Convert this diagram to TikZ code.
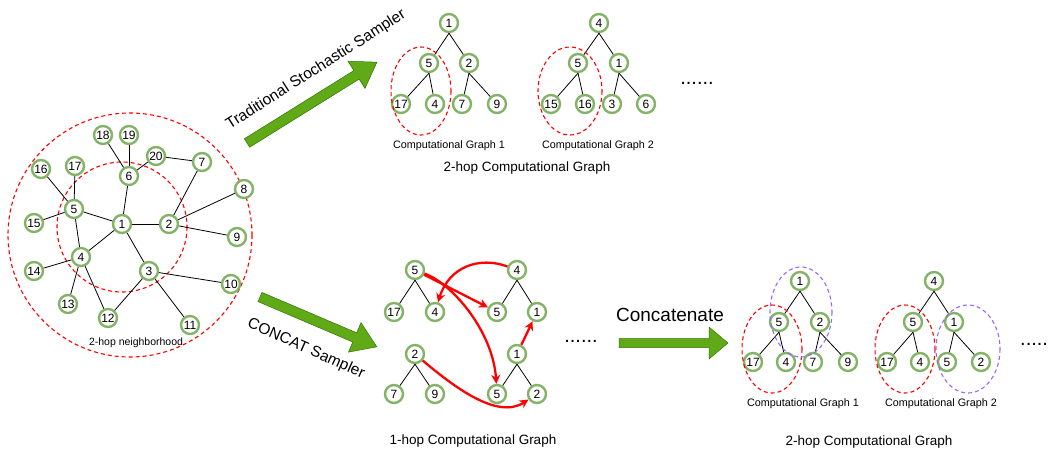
\documentclass[tikz,border=0pt]{standalone}
\usepackage{fontspec}
\setmainfont{Liberation Sans}
\usetikzlibrary{arrows.meta}
\definecolor{ngreen}{HTML}{82B366}
\definecolor{agreen}{HTML}{60A917}
\definecolor{agreenD}{HTML}{2D7600}
\definecolor{dred}{HTML}{FF0000}
\definecolor{dpurple}{HTML}{9966FF}
\tikzset{
  gn/.style={circle, draw=ngreen, line width=2.4pt, minimum size=18pt, inner sep=0pt, fill=white, font=\fontsize{12}{14}\selectfont},
  ed/.style={line width=0.8pt},
  rdash/.style={draw=dred, line width=1.1pt, dash pattern=on 4pt off 3pt},
  pdash/.style={draw=dpurple, line width=1.1pt, dash pattern=on 4pt off 3pt},
  rarr/.style={draw=dred, line width=2.3pt, -{Stealth[length=9pt,width=9pt]}},
  fat/.style={fill=agreen, draw=agreenD, line width=0.5pt},
  lbl/.style={font=\fontsize{10.8}{13}\selectfont, inner sep=0pt},
  title/.style={font=\fontsize{13.5}{16}\selectfont, inner sep=0pt},
  dots/.style={font=\fontsize{20}{22}\selectfont, inner sep=0pt, anchor=base},
}
\begin{document}
\begin{tikzpicture}[x=1pt, y=-1pt]
\useasboundingbox (0,0) rectangle (1050,456);

% ---------- left graph ----------
\draw[rdash] (130,235) circle (122);
\draw[rdash] (122,227) circle (65);

\node[gn] (n1) at (122,224) {1};
\node[gn] (n2) at (169,224) {2};
\node[gn] (n3) at (149,271) {3};
\node[gn] (n4) at (81,257) {4};
\node[gn] (n5) at (74,209) {5};
\node[gn] (n6) at (129,176) {6};
\node[gn] (n7) at (202,162) {7};
\node[gn] (n8) at (244,189) {8};
\node[gn] (n9) at (237,237) {9};
\node[gn] (n10) at (231,284) {10};
\node[gn] (n11) at (190,325) {11};
\node[gn] (n12) at (108,318) {12};
\node[gn] (n13) at (68,304) {13};
\node[gn] (n14) at (34,271) {14};
\node[gn] (n15) at (34,223) {15};
\node[gn] (n16) at (41,169) {16};
\node[gn] (n17) at (75,166) {17};
\node[gn] (n18) at (103,135) {18};
\node[gn] (n19) at (129,135) {19};
\node[gn] (n20) at (156,156) {20};

\foreach \a/\b in {n18/n6, n19/n6, n20/n6, n6/n1, n20/n7, n7/n2, n8/n2, n2/n9, n1/n2,
  n1/n5, n1/n4, n1/n3, n5/n16, n5/n17, n5/n15, n5/n4, n4/n14, n4/n13, n4/n12,
  n3/n12, n3/n10, n3/n11}
  \draw[ed] (\a) -- (\b);

\node[font=\fontsize{10.5}{12}\selectfont, inner sep=0pt] (lhood) at (136,343) {2-hop neighborhood};

% ---------- fat arrows ----------
\begin{scope}[shift={(247,143)}, rotate=31.9]
  \draw[fat] (0,5) -- (129,5) -- (129,16) -- (153,0) -- (129,-16) -- (129,-5) -- (0,-5) -- cycle;
\end{scope}
\node[font=\fontsize{15.5}{18}\selectfont, rotate=32.5, inner sep=0pt] (tss) at (316,70) {Traditional Stochastic Sampler};

\begin{scope}[shift={(260,297)}, rotate=-23.1]
  \draw[fat] (0,5) -- (103,5) -- (103,16) -- (127,0) -- (103,-16) -- (103,-5) -- (0,-5) -- cycle;
\end{scope}
\node[font=\fontsize{15.5}{18}\selectfont, rotate=-24, inner sep=0pt] (cs) at (306,349) {CONCAT Sampler};

\begin{scope}[shift={(619,343)}]
  \draw[fat] (0,4.5) -- (90,4.5) -- (90,16) -- (109,0) -- (90,-16) -- (90,-4.5) -- (0,-4.5) -- cycle;
\end{scope}
\node[font=\fontsize{19}{22}\selectfont, inner sep=0pt] (concat) at (670,315) {Concatenate};

% ---------- top: traditional computational graphs ----------
\node[gn] (ta1) at (449,23) {1};
\node[gn] (ta5) at (429,63) {5};
\node[gn] (ta2) at (469,63) {2};
\node[gn] (ta17) at (401,104) {17};
\node[gn] (ta4) at (435,104) {4};
\node[gn] (ta7) at (462,104) {7};
\node[gn] (ta9) at (497,104) {9};
\foreach \a/\b in {ta1/ta5, ta1/ta2, ta5/ta17, ta5/ta4, ta2/ta7, ta2/ta9}
  \draw[ed] (\a.south) -- (\b);
\draw[rdash] (421,91) ellipse [x radius=30, y radius=44];
\node[lbl] (tcg1) at (449,146) {Computational Graph 1};

\node[gn] (tb4) at (599,23) {4};
\node[gn] (tb5) at (578,63) {5};
\node[gn] (tb1) at (619,63) {1};
\node[gn] (tb15) at (551,104) {15};
\node[gn] (tb16) at (585,104) {16};
\node[gn] (tb3) at (612,104) {3};
\node[gn] (tb6) at (646,104) {6};
\foreach \a/\b in {tb4/tb5, tb4/tb1, tb5/tb15, tb5/tb16, tb1/tb3, tb1/tb6}
  \draw[ed] (\a.south) -- (\b);
\draw[rdash] (570,91) ellipse [x radius=32, y radius=44];
\node[lbl] (tcg2) at (598,146) {Computational Graph 2};

\node[dots] (tdots) at (697,84) {......};
\node[title] (t2hop) at (527,168) {2-hop Computational Graph};

% ---------- bottom: 1-hop computational graphs ----------
\node[gn] (pa5) at (415,270) {5};
\node[gn] (pa17) at (394,312) {17};
\node[gn] (pa4) at (435,312) {4};
\node[gn] (pb4) at (517,270) {4};
\node[gn] (pb5) at (497,312) {5};
\node[gn] (pb1) at (537,312) {1};
\node[gn] (pc2) at (415,354) {2};
\node[gn] (pc7) at (394,394) {7};
\node[gn] (pc9) at (435,394) {9};
\node[gn] (pd1) at (517,354) {1};
\node[gn] (pd5) at (497,394) {5};
\node[gn] (pd2) at (537,394) {2};
\foreach \a/\b in {pa5/pa17, pa5/pa4, pb4/pb5, pb4/pb1, pc2/pc7, pc2/pc9, pd1/pd5, pd1/pd2}
  \draw[ed] (\a.south) -- (\b);

\draw[rarr] (pa5) -- (pb5);
\draw[rarr] (pa5) .. controls +(38,14) and +(-4,-62) .. (pd5);
\draw[rarr] (pb4) .. controls +(-38,-14) and +(14,-45) .. (pa4);
\draw[rarr] (pd1) -- (pb1);
\draw[rarr] (pc2) .. controls +(38,32) and +(-40,26) .. (pd2);

\node[dots] (bdots) at (581,342) {......};
\node[title] (b1hop) at (473,441) {1-hop Computational Graph};

% ---------- right: concatenated 2-hop graphs ----------
\node[gn] (ra1) at (800,281) {1};
\node[gn] (ra5) at (779,322) {5};
\node[gn] (ra2) at (820,322) {2};
\node[gn] (ra17) at (753,362) {17};
\node[gn] (ra4) at (786,362) {4};
\node[gn] (ra7) at (813,362) {7};
\node[gn] (ra9) at (848,362) {9};
\foreach \a/\b in {ra1/ra5, ra1/ra2, ra5/ra17, ra5/ra4, ra2/ra7, ra2/ra9}
  \draw[ed] (\a.south) -- (\b);
\draw[rdash] (772,349) ellipse [x radius=30, y radius=44];
\draw[pdash] (801,312) ellipse [x radius=31, y radius=45];
\node[lbl] (rcg1) at (803,404) {Computational Graph 1};

\node[gn] (rb4) at (934,281) {4};
\node[gn] (rb5) at (913,322) {5};
\node[gn] (rb1) at (954,322) {1};
\node[gn] (rb17) at (887,362) {17};
\node[gn] (rb4b) at (920,362) {4};
\node[gn] (rb5b) at (947,362) {5};
\node[gn] (rb2) at (981,362) {2};
\foreach \a/\b in {rb4/rb5, rb4/rb1, rb5/rb17, rb5/rb4b, rb1/rb5b, rb1/rb2}
  \draw[ed] (\a.south) -- (\b);
\draw[rdash] (905,349) ellipse [x radius=30, y radius=44];
\draw[pdash] (968,349) ellipse [x radius=32, y radius=44];
\node[lbl] (rcg2) at (941,404) {Computational Graph 2};

\node[dots, anchor=base west] (rdots) at (1020,345) {.....};
\node[title] (r2hop) at (869,442) {2-hop Computational Graph};
\end{tikzpicture}
\end{document}
